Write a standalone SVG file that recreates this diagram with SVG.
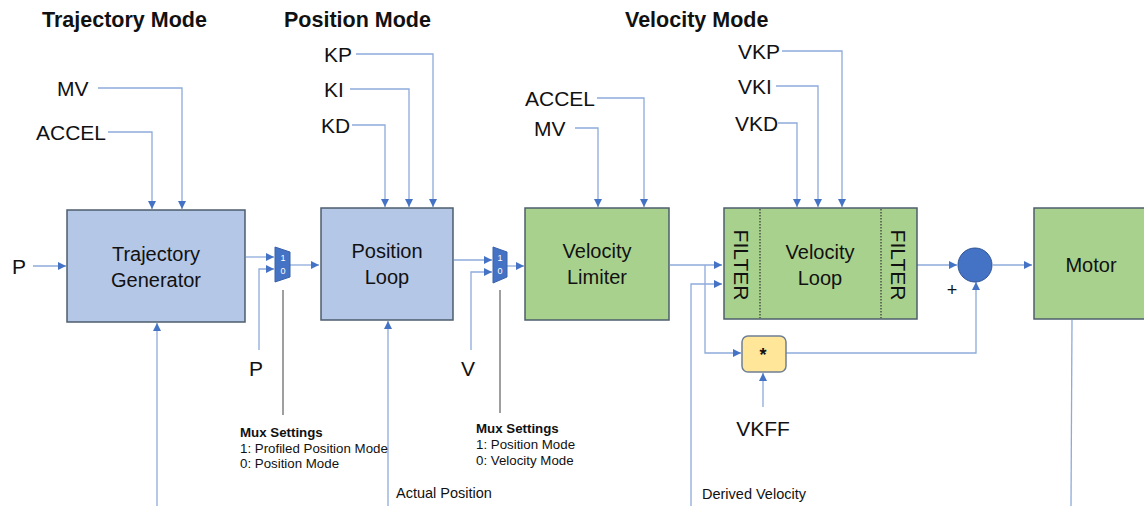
<svg xmlns="http://www.w3.org/2000/svg" width="1144" height="506" viewBox="0 0 1144 506">
<defs>
<marker id="ah" viewBox="0 0 10 10" refX="10" refY="5" markerWidth="8" markerHeight="8" markerUnits="userSpaceOnUse" orient="auto">
<path d="M0,0 L10,5 L0,10 z" fill="#4472C4"/>
</marker>
</defs>
<style>
text{font-family:"Liberation Sans",Arial,sans-serif;fill:#111}
.h{font-size:21.5px;font-weight:bold}
.lbl{font-size:21px}
.bt{font-size:20px;text-anchor:middle}
.sm{font-size:13.3px}
.sm2{font-size:14.5px}
.smb{font-size:13.3px;font-weight:bold}
.c{fill:none;stroke:#8EAADB;stroke-width:1.3}
.a{marker-end:url(#ah)}
.g{fill:none;stroke:#7f7f7f;stroke-width:1.5}
.blue{fill:#B4C7E7;stroke:#4E5D6C;stroke-width:1.5}
.green{fill:#A9D18E;stroke:#4E5D6C;stroke-width:1.5}
.mux{fill:#4472C4;stroke:#3A62A8;stroke-width:1}
.mt{font-size:9px;fill:#fff;text-anchor:middle}
</style>
<rect width="1144" height="506" fill="#fff"/>
<text class="h" x="42" y="27">Trajectory Mode</text>
<text class="h" x="284" y="27">Position Mode</text>
<text class="h" x="625" y="27">Velocity Mode</text>
<g id="connectors">
<polyline class="c a" points="98,88 182,88 182,209"/>
<polyline class="c a" points="108,132 152,132 152,209"/>
<line class="c a" x1="33" y1="266" x2="66" y2="266"/>
<line class="c a" x1="157" y1="506" x2="157" y2="323"/>
<line class="c a" x1="246" y1="257" x2="274" y2="257"/>
<polyline class="c a" points="259,350 259,269 274,269"/>
<line class="c a" x1="290" y1="265" x2="319" y2="265"/>
<polyline class="c a" points="356,54 433,54 433,207"/>
<polyline class="c a" points="350,89 409,89 409,207"/>
<polyline class="c a" points="352,125 385,125 385,207"/>
<line class="c a" x1="388" y1="506" x2="388" y2="321"/>
<line class="c a" x1="454" y1="260" x2="492" y2="260"/>
<polyline class="c a" points="471,350 471,272 492,272"/>
<line class="c a" x1="507" y1="266" x2="524" y2="266"/>
<polyline class="c a" points="597,98 644,98 644,207"/>
<polyline class="c a" points="575,128 598,128 598,207"/>
<polyline class="c a" points="782,51 842,51 842,207"/>
<polyline class="c a" points="776,86 818,86 818,207"/>
<polyline class="c a" points="778,123 797,123 797,207"/>
<line class="c a" x1="670" y1="265" x2="722" y2="265"/>
<polyline class="c a" points="705,265 705,353 741,353"/>
<polyline class="c a" points="691,506 691,284 722,284"/>
<line class="c a" x1="763" y1="407" x2="763" y2="373"/>
<polyline class="c a" points="786,353 976,353 976,282"/>
<line class="c a" x1="917" y1="265" x2="957" y2="265"/>
<line class="c a" x1="993" y1="265" x2="1032" y2="265"/>
<line class="c" x1="1072" y1="320" x2="1071" y2="506"/>
<line class="g" x1="283" y1="290" x2="283" y2="415"/>
<line class="g" x1="500" y1="290" x2="500" y2="413"/>
</g>
<g id="trajectory-generator">
<rect class="blue" x="67" y="210" width="178" height="112"/>
<text class="bt" x="156" y="261">Trajectory</text>
<text class="bt" x="156" y="287">Generator</text>
</g>
<g id="mux1">
<polygon class="mux" points="275,247 290,252 290,277 275,282"/>
<text class="mt" x="283" y="261">1</text>
<text class="mt" x="283" y="274">0</text>
</g>
<g id="position-loop">
<rect class="blue" x="321" y="208" width="132" height="112"/>
<text class="bt" x="387" y="258">Position</text>
<text class="bt" x="387" y="284">Loop</text>
</g>
<g id="mux2">
<polygon class="mux" points="493,247 507,252 507,277 493,283"/>
<text class="mt" x="500" y="261">1</text>
<text class="mt" x="500" y="274">0</text>
</g>
<g id="velocity-limiter">
<rect class="green" x="525" y="208" width="144" height="112"/>
<text class="bt" x="597" y="258">Velocity</text>
<text class="bt" x="597" y="284">Limiter</text>
</g>
<g id="velocity-loop">
<rect class="green" x="724" y="208" width="193" height="111"/>
<line x1="760" y1="209" x2="760" y2="318" stroke="#333" stroke-width="1.2" stroke-dasharray="1.5,1.5"/>
<line x1="881" y1="209" x2="881" y2="318" stroke="#333" stroke-width="1.2" stroke-dasharray="1.5,1.5"/>
<text class="bt" x="820" y="259">Velocity</text>
<text class="bt" x="820" y="285">Loop</text>
<text class="lbl" transform="translate(734,265) rotate(90)" text-anchor="middle">FILTER</text>
<text class="lbl" transform="translate(891,265) rotate(90)" text-anchor="middle">FILTER</text>
</g>
<g id="multiplier">
<rect x="742" y="336" width="44" height="36" rx="6" ry="6" fill="#FFE699" stroke="#6F7F94" stroke-width="1.5"/>
<text x="763" y="361" font-size="18px" text-anchor="middle" font-weight="bold">*</text>
</g>
<g id="summer">
<circle cx="975" cy="265" r="17" fill="#4472C4" stroke="#2F5597" stroke-width="1"/>
<text x="952" y="296" font-size="18px" text-anchor="middle">+</text>
</g>
<g id="motor">
<rect class="green" x="1034" y="208" width="120" height="111"/>
<text class="bt" x="1091" y="272">Motor</text>
</g>
<g id="labels">
<text class="lbl" x="57" y="96">MV</text>
<text class="lbl" x="36" y="140">ACCEL</text>
<text class="lbl" x="12" y="274">P</text>
<text class="lbl" x="249" y="376">P</text>
<text class="lbl" x="324" y="62">KP</text>
<text class="lbl" x="324" y="97">KI</text>
<text class="lbl" x="321" y="133">KD</text>
<text class="lbl" x="461" y="376">V</text>
<text class="lbl" x="525" y="106">ACCEL</text>
<text class="lbl" x="534" y="136">MV</text>
<text class="lbl" x="738" y="59">VKP</text>
<text class="lbl" x="738" y="94">VKI</text>
<text class="lbl" x="735" y="131">VKD</text>
<text class="lbl" x="763" y="436" text-anchor="middle">VKFF</text>
<text class="smb" x="240" y="437">Mux Settings</text>
<text class="sm" x="240" y="453">1: Profiled Position Mode</text>
<text class="sm" x="240" y="468">0: Position Mode</text>
<text class="smb" x="476" y="433">Mux Settings</text>
<text class="sm" x="476" y="449">1: Position Mode</text>
<text class="sm" x="476" y="465">0: Velocity Mode</text>
<text class="sm2" x="396" y="498">Actual Position</text>
<text class="sm2" x="702" y="499">Derived Velocity</text>
</g>
</svg>
